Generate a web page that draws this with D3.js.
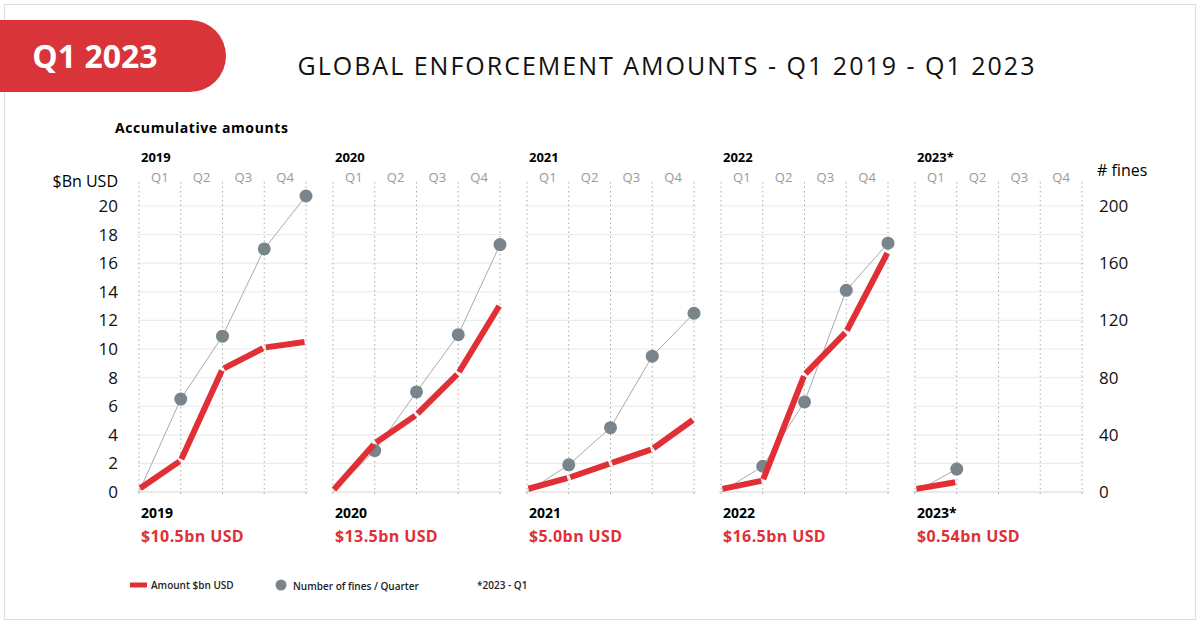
<!DOCTYPE html>
<html><head><meta charset="utf-8">
<script src="https://cdn.jsdelivr.net/npm/d3@7"></script>
<style>body{margin:0;background:#fff;font-family:"Open Sans",sans-serif}</style>
</head><body>
<svg id="chart" width="1200" height="624"></svg>
<script>
// panels and values, one point per quarter boundary (start, Q1..Q4)
const years = ['2019', '2020', '2021', '2022', '2023*']
const totals = ['$10.5bn USD', '$13.5bn USD', '$5.0bn USD', '$16.5bn USD', '$0.54bn USD']
const amounts = [
  [0.2, 2.2, 8.6, 10.1, 10.5],
  [0.1, 3.4, 5.4, 8.3, 13.1],
  [0.2, 1.0, 2.0, 3.0, 5.1],
  [0.2, 0.8, 8.2, 11.2, 16.8],
  [0.2, 0.7]
]
const fines = [
  [0, 65, 109, 170, 207],
  [0, 29, 70, 110, 173],
  [0, 19, 45, 95, 125],
  [0, 18, 63, 141, 174],
  [0, 16]
]
const quarters = ['Q1', 'Q2', 'Q3', 'Q4']
const leftTicks = d3.range(0, 21, 2)
const rightTicks = [0, 40, 80, 120, 160, 200]

const svg = d3.select('#chart')
const red = '#e03036', grey = '#7a848b'

svg.append('rect').attr('x', 4.5).attr('y', 4.5).attr('width', 1191).attr('height', 615)
  .attr('fill', 'none').attr('stroke', '#ddd')

// header tab
svg.append('path').attr('d', 'M0,20 H190 A36,36 0 0 1 190,92 H0 Z').attr('fill', '#d8343a')
svg.append('text').attr('x', 95).attr('y', 68).attr('text-anchor', 'middle')
  .attr('fill', '#fff').attr('font-size', 32).attr('font-weight', 700).text('Q1 2023')
svg.append('text').attr('x', 667).attr('y', 75).attr('text-anchor', 'middle')
  .attr('font-size', 25).attr('letter-spacing', 2).attr('fill', '#111')
  .text('GLOBAL ENFORCEMENT AMOUNTS - Q1 2019 - Q1 2023')
svg.append('text').attr('x', 115).attr('y', 133).attr('font-size', 14).attr('font-weight', 700)
  .attr('letter-spacing', 0.6).text('Accumulative amounts')

const y = d3.scaleLinear().domain([0, 20]).range([492, 206])
const yR = d3.scaleLinear().domain([0, 200]).range([492, 206])
const panelX = d3.scaleBand().domain(years).range([139, 1109]).paddingInner(0)
const pw = 167

// left axis
svg.append('g').attr('transform', 'translate(118,0)')
  .call(d3.axisLeft(y).tickValues(leftTicks).tickSize(0).tickPadding(0))
  .call(g => g.select('.domain').remove())
  .selectAll('text').attr('font-size', 17).attr('font-family', 'Open Sans').attr('fill', '#111')
svg.append('text').attr('x', 118).attr('y', 187).attr('text-anchor', 'end').attr('font-size', 16).text('$Bn USD')

// right axis
svg.append('g').attr('transform', 'translate(1099,0)')
  .call(d3.axisRight(yR).tickValues(rightTicks).tickSize(0).tickPadding(0))
  .call(g => g.select('.domain').remove())
  .selectAll('text').attr('font-size', 17).attr('font-family', 'Open Sans').attr('fill', '#111')
svg.append('text').attr('x', 1097).attr('y', 176).attr('font-size', 16).text('# fines')

years.forEach((yr, i) => {
  const x0 = panelX(yr)
  const x = d3.scaleLinear().domain([0, 4]).range([x0, x0 + pw])
  const g = svg.append('g')

  g.selectAll('.grid').data(leftTicks).join('line')
    .attr('x1', x0 - 2).attr('x2', x0 + pw + 2).attr('y1', d => y(d)).attr('y2', d => y(d))
    .attr('stroke', d => d === 0 ? '#d6d6d6' : '#ececec').attr('stroke-width', 1.2)
  g.selectAll('.vq').data(d3.range(5)).join('line')
    .attr('x1', d => x(d)).attr('x2', d => x(d)).attr('y1', 182).attr('y2', 494)
    .attr('stroke', '#aaa').attr('stroke-dasharray', '1.5,3')
  g.selectAll('.ql').data(quarters).join('text')
    .attr('x', (d, j) => x(j + 0.5)).attr('y', 182).attr('text-anchor', 'middle')
    .attr('font-size', 13).attr('fill', '#999').text(d => d)
  g.append('text').attr('x', x0 + 2).attr('y', 162).attr('font-size', 13).attr('font-weight', 700).text(yr)
  g.append('text').attr('x', x0 + 2).attr('y', 518).attr('font-size', 14).attr('font-weight', 700).text(yr)
  g.append('text').attr('x', x0 + 2).attr('y', 542).attr('font-size', 16).attr('font-weight', 700)
    .attr('fill', red).attr('letter-spacing', 0.4).text(totals[i])

  // fines line + dots
  g.append('path').datum(fines[i])
    .attr('d', d3.line().x((d, j) => x(j)).y(d => yR(d)))
    .attr('fill', 'none').attr('stroke', '#aaa').attr('stroke-width', 1)
  g.selectAll('.dot').data(fines[i].slice(1)).join('circle')
    .attr('cx', (d, j) => x(j + 1)).attr('cy', d => yR(d)).attr('r', 6.5).attr('fill', grey)

  // amount segments with small gaps at joints
  const segs = d3.pairs(amounts[i].map((v, j) => [x(j), y(v)]))
  g.selectAll('.seg').data(segs).join('line')
    .each(function ([a, b]) {
      const dx = b[0] - a[0], dy = b[1] - a[1], L = Math.hypot(dx, dy), k = 1.5 / L
      d3.select(this).attr('x1', a[0] + dx * k).attr('y1', a[1] + dy * k)
        .attr('x2', b[0] - dx * k).attr('y2', b[1] - dy * k)
    })
    .attr('stroke', red).attr('stroke-width', 6)
})

// legend
const lg = svg.append('g').attr('font-size', 10).attr('font-weight', 600).attr('fill', '#222')
lg.append('line').attr('x1', 130).attr('x2', 147).attr('y1', 585).attr('y2', 585).attr('stroke', red).attr('stroke-width', 5)
lg.append('text').attr('x', 151).attr('y', 589).text('Amount $bn USD')
lg.append('circle').attr('cx', 281).attr('cy', 585).attr('r', 5.5).attr('fill', grey)
lg.append('text').attr('x', 293).attr('y', 590).text('Number of fines / Quarter')
lg.append('text').attr('x', 477).attr('y', 589).text('*2023 - Q1')
</script>
</body></html>
